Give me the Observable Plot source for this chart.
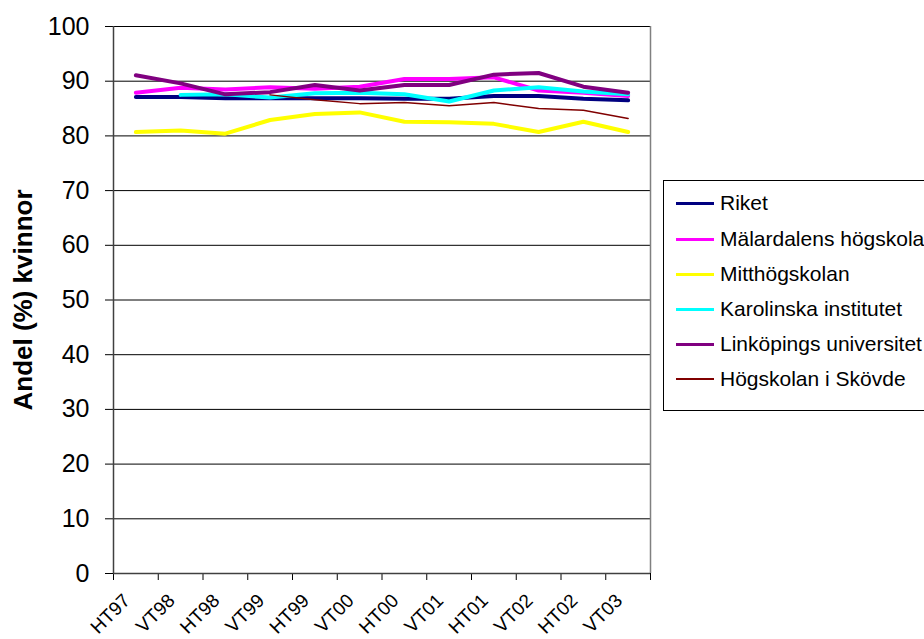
<!DOCTYPE html>
<html><head><meta charset="utf-8">
<script src="https://cdn.jsdelivr.net/npm/d3@7"></script>
<script src="https://cdn.jsdelivr.net/npm/@observablehq/plot@0.6"></script>
<style>
body{margin:0;background:#fff;font-family:"Liberation Sans",Arial,sans-serif;}
#wrap{position:relative;width:924px;height:639px;overflow:hidden;}
#legend{position:absolute;left:663px;top:180px;width:262px;height:231px;border:1px solid #000;box-sizing:border-box;background:#fff;}
.row{position:absolute;left:0;height:24px;display:flex;align-items:center;font-size:21px;color:#000;white-space:nowrap;}
.sw{display:inline-block;width:38px;margin-left:12px;margin-right:6px;}
</style></head>
<body><div id="wrap"><div id="chart"></div><div id="legend"></div></div>
<script>
const categories = ["HT97","VT98","HT98","VT99","HT99","VT00","HT00","VT01","HT01","VT02","HT02","VT03"];
const seriesNames = ["Riket","Mälardalens högskola","Mitthögskolan","Karolinska institutet","Linköpings universitet","Högskolan i Skövde"];
const riket      = [87.1, 87.1, 86.9, 86.9, 86.9, 86.9, 86.8, 86.8, 87.3, 87.3, 86.8, 86.5];
const malardalen = [87.9, 88.8, 88.5, 88.9, 88.6, 89.0, 90.4, 90.4, 90.7, 88.3, 87.9, 87.3];
const mitt       = [80.7, 81.0, 80.4, 82.9, 84.0, 84.3, 82.6, 82.5, 82.2, 80.7, 82.6, 80.7];
const karolinska = [null, 87.5, 87.6, 87.0, 87.8, 87.9, 87.6, 86.3, 88.3, 88.9, 88.1, 87.6];
const linkoping  = [91.1, 89.6, 87.6, 88.0, 89.3, 88.3, 89.3, 89.3, 91.2, 91.5, 89.0, 87.9];
const skovde     = [null, null, null, 87.5, 86.6, 85.9, 86.1, 85.5, 86.1, 85.0, 84.7, 83.2];
const yTicks = [0,10,20,30,40,50,60,70,80,90,100];

const colors = ["#000080","#FF00FF","#FFFF00","#00FFFF","#800080","#800000"];
const widths = [4,4,4,4,4,1.5];
const allSeries = [riket, malardalen, mitt, karolinska, linkoping, skovde];

const lineMarks = allSeries.map((vals, s) =>
  Plot.line(vals.map((v, i) => ({i, v})), {x: "i", y: "v", stroke: colors[s], strokeWidth: widths[s], strokeLinejoin: "miter"})
);

const chart = Plot.plot({
  width: 924, height: 639,
  marginLeft: 113, marginRight: 274, marginTop: 26, marginBottom: 66,
  style: {fontFamily: "'Liberation Sans', Arial, sans-serif", color: "#000", background: "#fff", overflow: "visible"},
  x: {type: "linear", domain: [-0.5, categories.length - 0.5]},
  y: {domain: [0, 100]},
  marks: [
    Plot.ruleY(yTicks.filter(d => d > 0), {stroke: "#000", strokeWidth: 1}),
    Plot.ruleX([categories.length - 0.5], {stroke: "#808080", strokeWidth: 1.5}),
    Plot.axisY({ticks: yTicks, tickSize: 8, tickPadding: 16, fontSize: 25, label: null, stroke: "#000"}),
    Plot.axisX({ticks: d3.range(-0.5, categories.length, 1), tickSize: 7, tickFormat: () => "", label: null, stroke: "#000"}),
    Plot.axisX({ticks: d3.range(categories.length), tickSize: 0, tickRotate: -45, tickPadding: 8, dx: -9, dy: 16, fontSize: 19, tickFormat: i => categories[i], label: null}),
    ...lineMarks,
    Plot.ruleX([-0.5], {stroke: "#404040", strokeWidth: 1.5}),
    Plot.ruleY([0], {stroke: "#404040", strokeWidth: 1.5}),
    Plot.text(["Andel (%) kvinnor"], {frameAnchor: "left", textAnchor: "middle", dx: -90, rotate: -90, fontSize: 26, fontWeight: "bold", fill: "#000"})
  ]
});
document.getElementById("chart").appendChild(chart);

const legend = document.getElementById("legend");
const rowTops = [22, 58, 93, 128, 163, 198];
seriesNames.forEach((name, s) => {
  const row = document.createElement("div");
  row.className = "row";
  row.style.top = (rowTops[s] - 12) + "px";
  const sw = document.createElement("span");
  sw.className = "sw";
  sw.style.height = (s === 5 ? 1.5 : 3) + "px";
  sw.style.background = colors[s];
  row.appendChild(sw);
  row.appendChild(document.createTextNode(name));
  legend.appendChild(row);
});
</script>
</body></html>
